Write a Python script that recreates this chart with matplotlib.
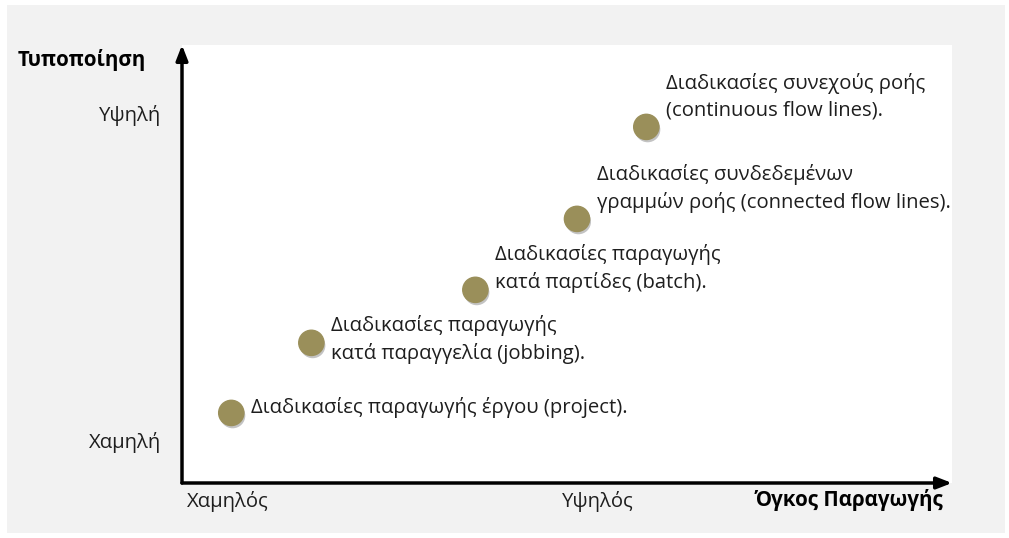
import matplotlib.pyplot as plt
import matplotlib.patheffects as pe
from matplotlib.patches import Rectangle

plt.rcParams['font.family'] = ['Open Sans', 'DejaVu Sans']

# process types: position on volume (x) vs standardisation (y), 0-10 scale
volume = [0.64, 1.68, 3.81, 5.13, 6.03]
standard = [1.6, 3.2, 4.41, 6.03, 8.13]
labels = [
    "Διαδικασίες παραγωγής έργου (project).",
    "Διαδικασίες παραγωγής\nκατά παραγγελία (jobbing).",
    "Διαδικασίες παραγωγής\nκατά παρτίδες (batch).",
    "Διαδικασίες συνδεδεμένων\nγραμμών ροής (connected flow lines).",
    "Διαδικασίες συνεχούς ροής\n(continuous flow lines).",
]
x_ticks = [0.6, 5.4]
x_ticklabels = ["Χαμηλός", "Υψηλός"]
y_ticks = [0.98, 8.45]
y_ticklabels = ["Χαμηλή", "Υψηλή"]

# label offsets in pixels (layout only)
label_dy = [5, 3, 21, 30, 30]
FS = 14.6

W, H = 1009, 538
fig = plt.figure(figsize=(W / 100, H / 100), dpi=100, facecolor="white")
fig.patches.append(Rectangle((7 / W, 5 / H), 998 / W, 528 / H, transform=fig.transFigure,
                             facecolor="#f2f2f2", edgecolor="none", zorder=-5))

ax = fig.add_axes([182 / W, 55 / H, 770 / W, 438 / H])
ax.set_zorder(2)
ax.set_facecolor("white")
ax.set_xlim(0, 10)
ax.set_ylim(0, 10)
for s in ax.spines.values():
    s.set_visible(False)

shadow = [pe.SimplePatchShadow(offset=(1, -2), shadow_rgbFace="#555555", alpha=0.35), pe.Normal()]
ax.scatter(volume, standard, s=330, color="#9a8f5a", zorder=3, clip_on=False,
           path_effects=shadow)

for xv, yv, lab, dy in zip(volume, standard, labels, label_dy):
    ax.annotate(lab, (xv, yv), xytext=(20, dy), textcoords="offset pixels",
                ha="left", va="center", fontsize=FS, color="#1e1e1e",
                linespacing=1.45, zorder=4)

# axis arrows
for end in [(1.0, 0), (0, 1.0)]:
    ax.annotate("", xy=end, xytext=(0, 0), xycoords="axes fraction",
                arrowprops=dict(arrowstyle="-|>,head_length=0.9,head_width=0.35",
                                lw=2.5, color="black", shrinkA=0, shrinkB=0),
                annotation_clip=False)

ax.set_xticks(x_ticks)
ax.set_xticklabels(x_ticklabels, fontsize=FS, color="#1e1e1e")
ax.set_yticks(y_ticks)
ax.set_yticklabels(y_ticklabels, fontsize=FS, color="#1e1e1e")
ax.tick_params(axis="x", length=0, pad=6)
ax.tick_params(axis="y", length=0, pad=15)

fig.text(18 / W, 1 - 60 / H, "Τυποποίηση", fontsize=14.8, fontweight="bold",
         ha="left", va="center")
fig.text(943 / W, 1 - 500 / H, "Όγκος Παραγωγής", fontsize=14.8, fontweight="bold",
         ha="right", va="center")

fig.savefig("out.png", dpi=100, facecolor="white")
